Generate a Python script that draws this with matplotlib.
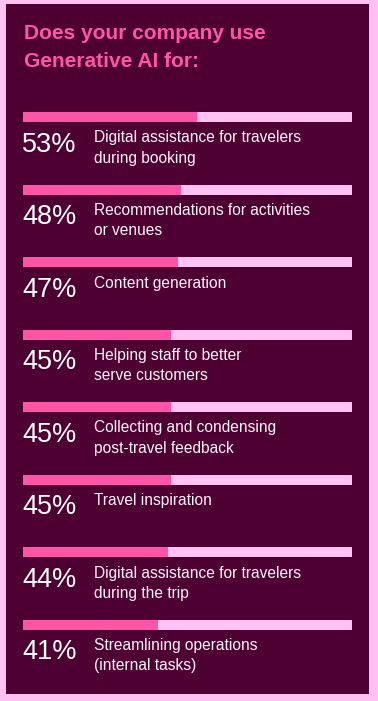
import matplotlib.pyplot as plt
from matplotlib.patches import Rectangle

# survey results
shares = [53, 48, 47, 45, 45, 45, 44, 41]
pct_labels = ["53%", "48%", "47%", "45%", "45%", "45%", "44%", "41%"]
uses = [
    "Digital assistance for travelers\nduring booking",
    "Recommendations for activities\nor venues",
    "Content generation",
    "Helping staff to better\nserve customers",
    "Collecting and condensing\npost-travel feedback",
    "Travel inspiration",
    "Digital assistance for travelers\nduring the trip",
    "Streamlining operations\n(internal tasks)",
]
title = "Does your company use\nGenerative AI for:"

BG = "#4f0033"
PINK = "#ff55a8"
LIGHT = "#ffc2f2"

W, H = 378, 701
fig = plt.figure(figsize=(W / 100, H / 100), dpi=100, facecolor=LIGHT)
fig.patches.append(Rectangle((6 / W, 1 - 694 / H), 363 / W, 690 / H,
                             transform=fig.transFigure, facecolor=BG,
                             edgecolor="none", zorder=-5))

# baseline of the last title line
fig.text(23.5 / W, 1 - 67 / H, title, color=PINK, fontsize=15,
         fontweight="bold", family="Liberation Sans", va="baseline",
         ha="left", linespacing=1.62, zorder=3)

# axes spanning the bar area: x 0..100 maps to px 23..352
step = 72.57
top_px = 117 - 0.5 * step
ax = fig.add_axes([23 / W, 1 - (top_px + 8 * step) / H, 329 / W, 8 * step / H])
ax.set_facecolor("none")
ax.set_zorder(2)
ax.set_xlim(0, 100)
ax.set_ylim(7.5, -0.5)
ax.axis("off")

ys = list(range(len(shares)))
bh = 10 / step
ax.barh(ys, [100] * len(ys), height=bh, color=LIGHT, zorder=1)
ax.barh(ys, shares, height=bh, color=PINK, zorder=2)

for y, p, lab in zip(ys, pct_labels, uses):
    ax.text(-0.3, y + 34.5 / step, p, color="white", fontsize=19.5,
            family="Liberation Sans", va="baseline", ha="left")
    extra = 20 * lab.count("\n")
    ax.text(21.6, y + (25.5 + extra) / step, lab, color="#fff4fa",
            fontsize=11.2, family="Liberation Sans", va="baseline",
            ha="left", linespacing=1.45)

fig.savefig("out.png", dpi=100, facecolor=LIGHT)
